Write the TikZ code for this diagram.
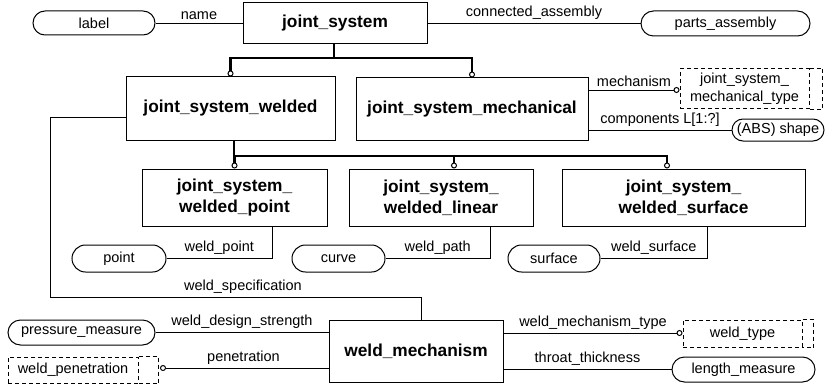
\documentclass[tikz,border=0pt]{standalone}
\usepackage{fontspec}
\setmainfont{Liberation Sans}
\usetikzlibrary{shapes.misc, arrows.meta}

\begin{document}
\begin{tikzpicture}[x=1pt, y=-1pt,
    entity/.style={draw, line width=1pt, inner sep=0pt, align=center,
      font=\bfseries\fontsize{17.3}{21}\selectfont},
    simple/.style={draw, rounded rectangle, line width=1pt, inner sep=0pt,
      font=\fontsize{14.5}{18}\selectfont},
    deftype/.style={draw, dash pattern=on 4pt off 3pt, line width=1pt, inner sep=0pt,
      align=center, font=\fontsize{14.5}{18}\selectfont},
    typeedge/.style={dash pattern=on 4pt off 3pt, line width=1pt},
    rel/.style={line width=0.9pt},
    tree/.style={line width=2.6pt},
    ring/.style={-{Circle[open, length=6pt, line width=1pt]}},
    role/.style={font=\fontsize{14.5}{18}\selectfont}]
  \useasboundingbox (0,0) rectangle (826,385);

  % Entities
  \node[entity, minimum width=184, minimum height=41] (jsys) at (335,23.5) {joint\_system};
  \node[entity, minimum width=209, minimum height=63] (welded) at (230.5,108.5) {joint\_system\_welded};
  \node[entity, minimum width=232, minimum height=62] (mechanical) at (472,109) {joint\_system\_mechanical};
  \node[entity, minimum width=185, minimum height=57] (wpoint) at (234.5,197.5) {joint\_system\_\\welded\_point};
  \node[entity, minimum width=184, minimum height=57] (wlinear) at (441,197.5) {joint\_system\_\\welded\_linear};
  \node[entity, minimum width=243, minimum height=57] (wsurface) at (683.5,197.5) {joint\_system\_\\welded\_surface};
  \node[entity, minimum width=174, minimum height=62] (wmech) at (416,351) {weld\_mechanism};

  % Simple types
  \node[simple, minimum width=122, minimum height=24] (label) at (94,23) {label};
  \node[simple, minimum width=169, minimum height=25] (passembly) at (725.5,23.5) {parts\_assembly};
  \node[simple, minimum width=92, minimum height=22] (shape) at (778,130) {(ABS) shape};
  \node[simple, minimum width=94, minimum height=27] (point) at (119,258.5) {point};
  \node[simple, minimum width=93, minimum height=27] (curve) at (338.5,258.5) {curve};
  \node[simple, minimum width=92, minimum height=27] (surface) at (554,258.5) {surface};
  \node[simple, minimum width=147, minimum height=25] (pressure) at (81.5,332.5) {pressure\_measure};
  \node[simple, minimum width=143, minimum height=25] (length) at (743.5,369.5) {length\_measure};

  % Defined types
  \node[deftype, minimum width=129, minimum height=40] (mtype) at (744.5,89) {joint\_system\_\\mechanical\_type};
  \draw[typeedge] (mtype.north east) -| ([xshift=13]mtype.south east) -- (mtype.south east);
  \node[deftype, minimum width=130, minimum height=26] (penetration) at (73,370) {weld\_penetration};
  \draw[typeedge] (penetration.north east) -| ([xshift=20]penetration.south east) -- (penetration.south east);
  \coordinate (pen-e) at ([xshift=20]penetration.east);
  \node[deftype, minimum width=119, minimum height=27] (wtype) at (742.5,333.5) {weld\_type};
  \draw[typeedge] (wtype.north east) -| ([xshift=11]wtype.south east) -- (wtype.south east);

  % Subtype trees
  \coordinate (t1) at (334,58);
  \draw[tree] (jsys.south -| t1) -- (t1);
  \draw[tree, ring] (t1) -| (welded.north);
  \draw[tree, ring] (t1) -| (mechanical.north);
  \coordinate (t2) at (234,156);
  \draw[tree] (welded.south -| t2) -- (t2);
  \draw[tree, ring] (t2) -| (wpoint.north);
  \draw[tree, ring] (t2) -| ([xshift=13]wlinear.north);
  \draw[tree, ring] (t2) -| ([xshift=-16.5]wsurface.north);

  % Attributes
  \draw[rel] (label.east) -- (label.east -| jsys.west) node[midway, above, role] {name};
  \draw[rel] (jsys.east |- passembly.west) -- (passembly.west) node[midway, above, role] {connected\_assembly};
  \draw[rel, ring] ([yshift=19]mechanical.east) -- ([yshift=19]mechanical.east -| mtype.west)
    node[midway, above, role] {mechanism};
  \draw[rel] (mechanical.east |- shape.west) -- (shape.west) node[midway, above, role] {components L[1:?]};
  \draw[rel] ([xshift=37.5]wpoint.south) |- (point.east) node[pos=0.75, above, role] {weld\_point};
  \draw[rel] ([xshift=49]wlinear.south) |- (curve.east) node[pos=0.75, above, role] {weld\_path};
  \draw[rel] ([xshift=23.5]wsurface.south) |- (surface.east) node[pos=0.75, above, role] {weld\_surface};
  \coordinate (s1) at (50,297);
  \draw[rel] ([yshift=-8.5]welded.west) -| (s1) -| ([xshift=5]wmech.north)
    node[pos=0.26, above, role] {weld\_specification};
  \draw[rel] (pressure.east) -- (pressure.east -| wmech.west) node[midway, above, role] {weld\_design\_strength};
  \draw[rel, ring, shorten >=1.5pt] ([yshift=-17]wmech.west) -- ([yshift=-17]wmech.west -| pen-e)
    node[midway, above, role] {penetration};
  \draw[rel, ring] ([yshift=18]wmech.east) -- ([yshift=18]wmech.east -| wtype.west)
    node[midway, above, role] {weld\_mechanism\_type};
  \draw[rel] ([yshift=-18]wmech.east) -- ([yshift=-18]wmech.east -| length.west)
    node[midway, above, role] {throat\_thickness};
\end{tikzpicture}
\end{document}
